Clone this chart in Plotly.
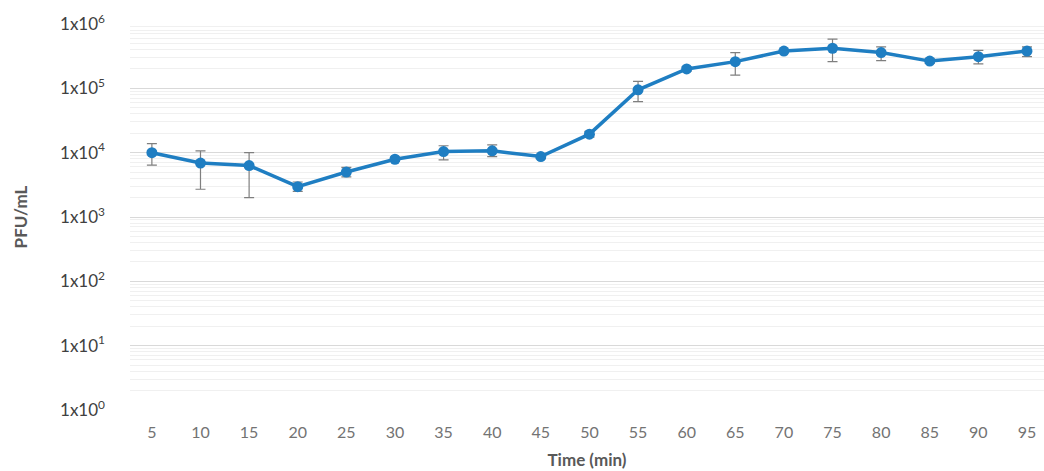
import plotly.graph_objects as go

times = ["5", "10", "15", "20", "25", "30", "35", "40", "45", "50",
         "55", "60", "65", "70", "75", "80", "85", "90", "95"]
pfu = [1.0e4, 6.9e3, 6.3e3, 2.96e3, 5.0e3, 7.9e3, 1.04e4, 1.07e4, 8.7e3, 1.94e4,
       9.5e4, 2.0e5, 2.6e5, 3.8e5, 4.2e5, 3.6e5, 2.65e5, 3.1e5, 3.8e5]
err_upper = [1.38e4, 1.07e4, 1.0e4, 3.5e3, 5.9e3, 8.5e3, 1.28e4, 1.32e4, 9.3e3, 2.15e4,
             1.28e5, 2.15e5, 3.6e5, 4.0e5, 5.8e5, 4.4e5, 2.9e5, 3.9e5, 4.4e5]
err_lower = [6.4e3, 2.7e3, 2.0e3, 2.5e3, 4.2e3, 7.3e3, 7.7e3, 8.7e3, 8.1e3, 1.75e4,
             6.2e4, 1.85e5, 1.6e5, 3.6e5, 2.6e5, 2.7e5, 2.45e5, 2.4e5, 3.1e5]
ytick_vals = [1, 10, 100, 1e3, 1e4, 1e5, 1e6]
ytick_text = ["1x10<sup>0</sup>", "1x10<sup>1</sup>", "1x10<sup>2</sup>", "1x10<sup>3</sup>",
              "1x10<sup>4</sup>", "1x10<sup>5</sup>", "1x10<sup>6</sup>"]

plus = [u - v for u, v in zip(err_upper, pfu)]
minus = [v - l for v, l in zip(pfu, err_lower)]

fig = go.Figure()
fig.add_trace(go.Scatter(
    x=times, y=pfu, mode="lines+markers",
    line=dict(color="#1F7EC2", width=3.5),
    marker=dict(color="#1F7EC2", size=11),
    error_y=dict(type="data", symmetric=False, array=plus, arrayminus=minus,
                 color="#7F7F7F", thickness=1.2, width=5),
    showlegend=False,
    cliponaxis=False,
))

fig.update_layout(
    width=1044, height=471,
    margin=dict(l=130, r=0, t=24, b=61),
    paper_bgcolor="white", plot_bgcolor="white",
    font=dict(family="Lato, Open Sans, sans-serif", color="#404040"),
    xaxis=dict(
        type="category", range=[-0.45, 18.35], automargin=False,
        showgrid=False, showline=False, zeroline=False,
        tickfont=dict(size=16, color="#737373"),
        ticks="", ticklabelstandoff=11,
        title=dict(text="<b>Time (min)</b>", font=dict(size=17, color="#595959"), standoff=14),
    ),
    yaxis=dict(
        type="log", range=[0, 6], automargin=False,
        tickvals=ytick_vals, ticktext=ytick_text,
        tickfont=dict(size=17, color="#404040"),
        ticks="", ticklabelstandoff=24,
        showgrid=True, gridcolor="#D9D9D9", gridwidth=1,
        zeroline=False, showline=False,
        minor=dict(showgrid=True, gridcolor="#F0F0F0", gridwidth=1, dtick="D1", ticks=""),
        title=dict(text="<b>PFU/mL</b>", font=dict(size=17, color="#595959"), standoff=28),
    ),
)

fig.write_html(
    "out.html",
    config={"displayModeBar": False},
    post_script="document.body.style.margin='0';document.body.style.padding='0';document.body.style.overflow='hidden';",
)
